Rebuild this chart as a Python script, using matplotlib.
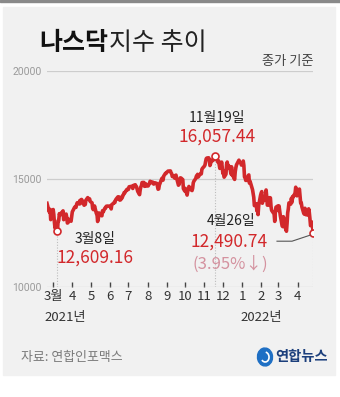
import matplotlib
matplotlib.use("Agg")
import matplotlib.pyplot as plt
import matplotlib.dates as mdates
import pandas as pd
from matplotlib.patches import Rectangle, Ellipse, Arc
from matplotlib.lines import Line2D

plt.rcParams['font.family'] = ['Noto Sans CJK KR', 'DejaVu Sans']

# Nasdaq composite closes (trading days 2021-02-19 .. 2022-04-26)
closes = [
    # 2021 Feb
    13874, 13533, 13465, 13597, 13119, 13192,
    # Mar
    13588, 13358, 12998, 12723, 12920, 12609.16, 13073, 13068, 13398, 13320,
    13460, 13472, 13525, 13116, 13215, 13377, 13227, 12961, 12977, 13139,
    13059, 13045, 13247,
    # Apr
    13480, 13705, 13698, 13688, 13829, 13900, 13850, 13996, 13857, 14038,
    14052, 13914, 13787, 13950, 13818, 14016, 14138, 14090, 14051, 14082, 13962,
    # May
    13895, 13634, 13582, 13633, 13752, 13402, 13389, 13032, 13125, 13430,
    13380, 13303, 13299, 13535, 13471, 13661, 13657, 13738, 13736, 13749,
    # Jun
    13736, 13756, 13614, 13814, 13881, 13925, 13911, 14020, 14069, 14175,
    14073, 14040, 14161, 14030, 14141, 14253, 14272, 14370, 14360, 14500,
    14528, 14504,
    # Jul
    14523, 14639, 14663, 14665, 14560, 14701, 14733, 14678, 14645, 14543,
    14428, 14275, 14498, 14632, 14684, 14837, 14840, 14660, 14763, 14778, 14673,
    # Aug
    14681, 14761, 14780, 14895, 14836, 14860, 14788, 14765, 14816, 14823,
    14793, 14656, 14526, 14542, 14715, 14942, 15020, 15042, 14946, 15130,
    15266, 15259,
    # Sep
    15310, 15331, 15364, 15374, 15287, 15248, 15115, 15106, 15037, 15162,
    15181, 15044, 14714, 14747, 14897, 15052, 15048, 14970, 14546, 14512, 14448,
    # Oct
    14567, 14255, 14434, 14502, 14655, 14580, 14486, 14465, 14572, 14824,
    14897, 15022, 15129, 15122, 15216, 15090, 15227, 15236, 15236, 15448, 15498,
    # Nov
    15595, 15650, 15812, 15940, 15971, 15982, 15887, 15623, 15704, 15861,
    15853, 15974, 15921, 15993, 16057.44, 15854, 15775, 15845, 15491, 15783, 15538,
    # Dec
    15254, 15381, 15085, 15225, 15686, 15786, 15518, 15630, 15413, 15237,
    15566, 15180, 15169, 14981, 15341, 15522, 15653, 15871, 15781, 15766,
    15741, 15645,
    # 2022 Jan
    15833, 15623, 15100, 15081, 14936, 14943, 15153, 15188, 14806, 14894,
    14507, 14341, 14155, 13769, 13856, 13540, 13542, 13353, 13771, 14240,
    # Feb
    14347, 14417, 13879, 14098, 14015, 14194, 14491, 14186, 13791, 13790,
    14139, 14124, 13717, 13548, 13381, 13038, 13473, 13694, 13751,
    # Mar
    13532, 13752, 13537, 13313, 12831, 12795, 13255, 13130, 12843, 12581,
    12949, 13437, 13615, 13894, 13838, 14109, 13923, 14191, 14169, 14354,
    14620, 14442, 14221,
    # Apr
    14262, 14533, 14204, 13888, 13897, 13711, 13411, 13372, 13644, 13351,
    13332, 13619, 13453, 13174, 12839, 13004, 12490.74,
]
holidays = ["2021-04-02", "2021-05-31", "2021-07-05", "2021-09-06", "2021-11-25",
            "2021-12-24", "2022-01-17", "2022-02-21", "2022-04-15"]

month_labels = ["3월", "4", "5", "6", "7", "8", "9", "10", "11", "12", "1", "2", "3", "4"]
y_ticks = [10000, 15000, 20000]

low_date, low_label, low_value = "2021-03-08", "3월8일", "12,609.16"
peak_date, peak_label, peak_value = "2021-11-19", "11월19일", "16,057.44"
last_date, last_label, last_value, last_change = "2022-04-26", "4월26일", "12,490.74", "(3.95%↓)"

dates = pd.bdate_range("2021-02-19", "2022-04-26")
dates = dates[~dates.isin(pd.to_datetime(holidays))]
assert len(dates) == len(closes), (len(dates), len(closes))
s = pd.Series(closes, index=dates)

W, H = 340, 397
RED = "#d2282b"


def fx(x):
    return x / W


def fy(y):
    return 1 - y / H


fig = plt.figure(figsize=(W / 100, H / 100), dpi=100)
fig.patch.set_facecolor("white")
fig.add_artist(Rectangle((fx(3), fy(375)), fx(332), 368 / H, transform=fig.transFigure,
                         color="#f1f1f1", zorder=0))
fig.add_artist(Rectangle((0, fy(2)), 1, 2 / H, transform=fig.transFigure,
                         color="#8a8a8a", zorder=0))

ax = fig.add_axes([fx(47), fy(287), fx(313 - 47), (287 - 71) / H])
ax.set_facecolor("none")
ax.set_xlim(dates[0], dates[-1])
ax.set_ylim(10000, 20000)
for sp in ax.spines.values():
    sp.set_visible(False)

ax.set_yticks(y_ticks)
ax.set_yticklabels([str(v) for v in y_ticks], fontsize=7.5, color="#9a9a9a",
                   family=["Roboto", "DejaVu Sans"])
ax.tick_params(axis="y", length=0, pad=4)
ax.yaxis.grid(True, color="#cdcdcd", lw=0.9)
ax.set_axisbelow(True)

month_starts = pd.date_range("2021-03-01", "2022-04-01", freq="MS")
ax.set_xticks(month_starts)
ax.set_xticklabels(month_labels, fontsize=9.5, color="#333333")
ax.tick_params(axis="x", direction="in", length=3.5, width=1, color="#444444", pad=2)

ax.plot(s.index, s.values, color=RED, lw=2.6, solid_joinstyle="round", zorder=3)

# highlighted points with dotted drop lines
for d in [low_date, peak_date, last_date]:
    d = pd.Timestamp(d)
    ax.plot([d, d], [10000, s[d]], color="#bdbdbd", lw=0.8, ls=(0, (1, 1.5)), zorder=2)
    ax.plot(d, s[d], "o", ms=5, mfc="white", mec=RED, mew=1.2, zorder=4)


def note(d, text, dx, dy, size, color, weight="normal"):
    ax.annotate(text, xy=(pd.Timestamp(d), s[pd.Timestamp(d)]), xytext=(dx, dy),
                textcoords="offset pixels", ha="center", va="center",
                fontsize=size, color=color, fontweight=weight, zorder=5)


note(peak_date, peak_label, 2, 38, 10, "#222222")
note(peak_date, peak_value, 2, 20, 12.5, RED, "medium")
note(low_date, low_label, 38, -8, 10, "#222222")
note(low_date, low_value, 38, -27, 12.5, RED, "medium")
note(last_date, last_label, -82, 12, 10, "#222222")
note(last_date, last_value, -84, -8, 12.5, RED, "medium")
note(last_date, last_change, -83, -31, 12, "#d4929f")

# leader line from the last point to its label
lx, ly = ax.transData.transform((mdates.date2num(pd.Timestamp(last_date)),
                                 s[pd.Timestamp(last_date)]))
fig.add_artist(Line2D([lx - 3, lx - 21, lx - 36], [ly - 2, ly - 8, ly - 8],
                      transform=None, color="#555555", lw=0.8))

ax.text(-0.01, -0.14, "2021년", transform=ax.transAxes, ha="left", va="center",
        fontsize=9.5, color="#333333")
fig.text(fx(240), fy(317), "2022년", ha="left", va="center", fontsize=9.5, color="#333333")

# title
t1 = fig.text(fx(39), fy(43), "나스닥", fontsize=18, fontweight="bold", color="#111111",
              va="center", ha="left")
r = fig.canvas.get_renderer()
bb = t1.get_window_extent(r)
fig.text((bb.x1 + 1) / W, fy(43), "지수 추이", fontsize=18, fontweight="light",
         color="#222222", va="center", ha="left")
fig.text(fx(314), fy(62), "종가 기준", fontsize=9.5, color="#444444", ha="right", va="center")

# footer
fig.text(fx(21), fy(357), "자료: 연합인포맥스", fontsize=9.3, color="#7a7a7a", ha="left", va="center")
fig.add_artist(Ellipse((fx(265), fy(357)), fx(15), 18 / H, angle=20,
                       transform=fig.transFigure, color="#1e6fc4"))
fig.add_artist(Arc((fx(265), fy(357)), fx(8), 10 / H, angle=20, theta1=200, theta2=60,
                   transform=fig.transFigure, color="white", lw=1.2))
fig.text(fx(275), fy(357), "연합뉴스", fontsize=10.3, fontweight="bold", color="#1c3f7c",
         ha="left", va="center")

fig.savefig("out.png", dpi=100)
